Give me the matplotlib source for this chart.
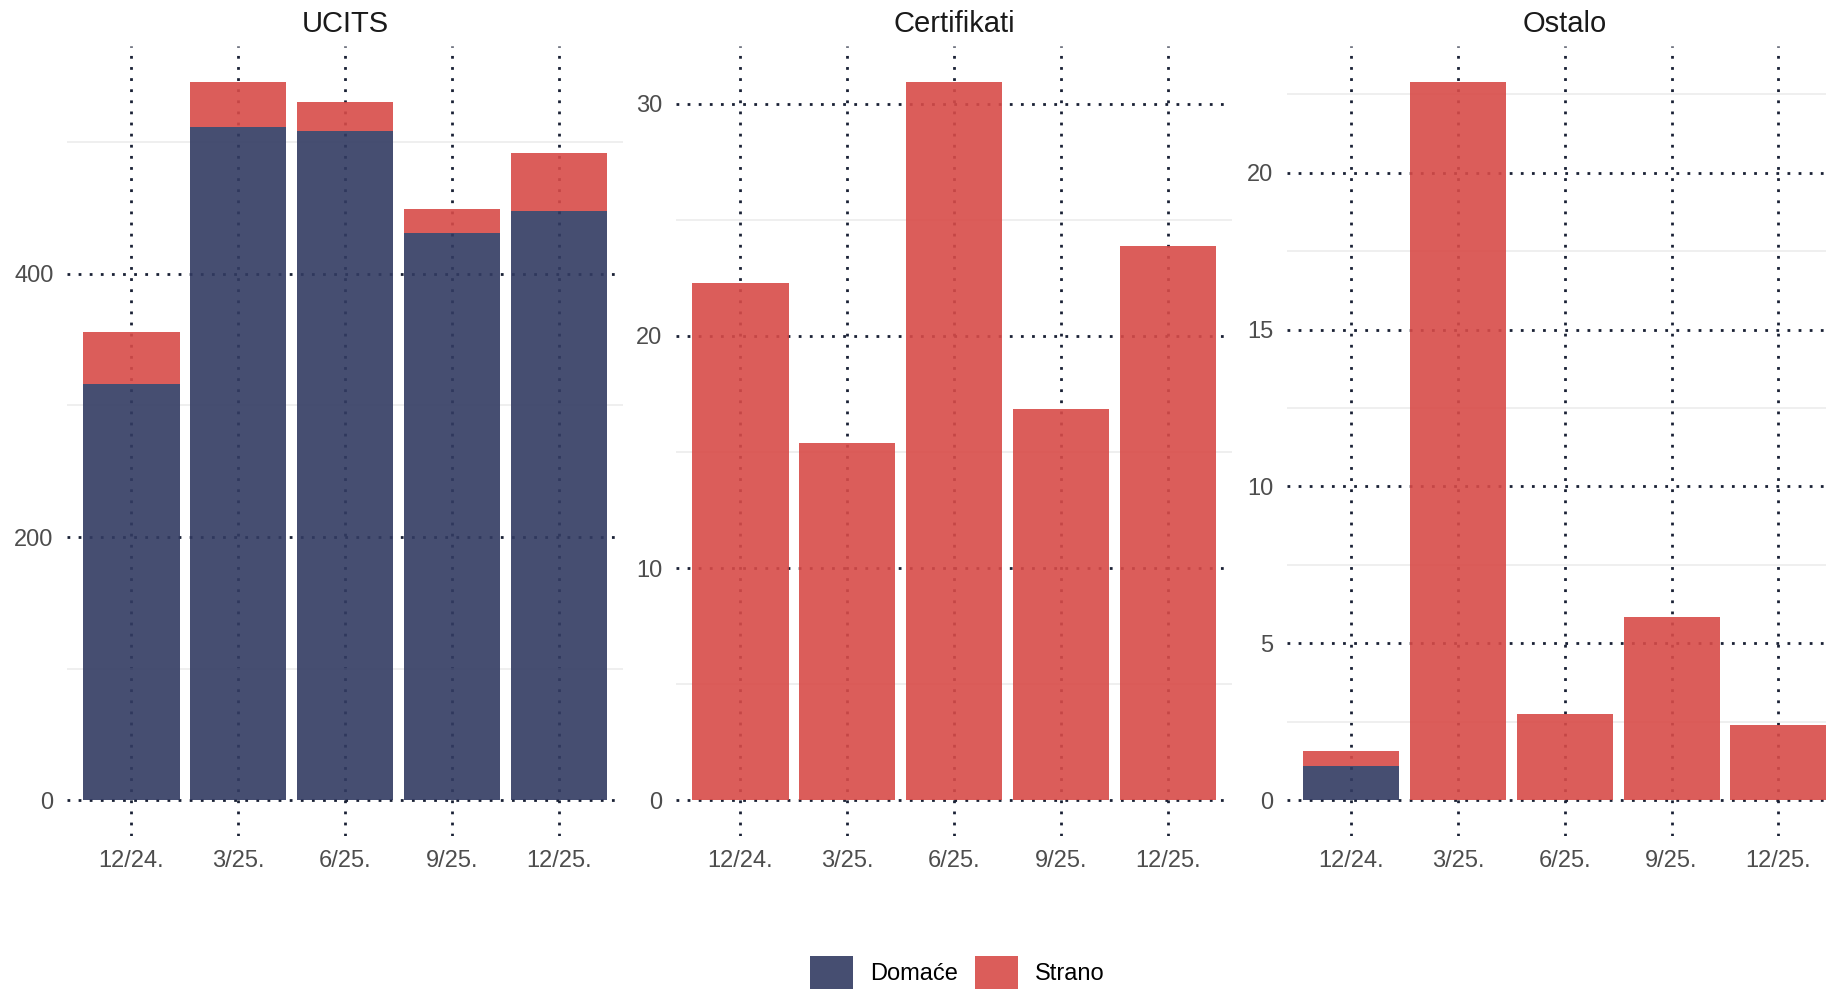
import matplotlib
matplotlib.use("Agg")
import matplotlib.pyplot as plt
from matplotlib.patches import Patch
from matplotlib.ticker import FixedLocator

plt.rcParams['font.family'] = ['Liberation Sans', 'DejaVu Sans']

# data
quarters = ['12/24.', '3/25.', '6/25.', '9/25.', '12/25.']
panels = ['UCITS', 'Certifikati', 'Ostalo']

ucits_dom = [316, 512, 509, 431, 448]
ucits_str = [40, 34, 22, 18, 44]
cert_dom = [0, 0, 0, 0, 0]
cert_str = [22.3, 15.4, 30.95, 16.85, 23.9]
ostalo_dom = [1.1, 0, 0, 0, 0]
ostalo_str = [0.45, 22.9, 2.75, 5.85, 2.4]

major_ticks = {'UCITS': [0, 200, 400],
               'Certifikati': [0, 10, 20, 30],
               'Ostalo': [0, 5, 10, 15, 20]}
minor_ticks = {'UCITS': [100, 300, 500],
               'Certifikati': [5, 15, 25],
               'Ostalo': [2.5, 7.5, 12.5, 17.5, 22.5]}

series = {'UCITS': (ucits_dom, ucits_str),
          'Certifikati': (cert_dom, cert_str),
          'Ostalo': (ostalo_dom, ostalo_str)}

c_dom = '#323B62'
c_str = '#D84B48'
grid_col = '#1a2135'

W, H = 1826, 989
fig = plt.figure(figsize=(W / 100, H / 100), dpi=100)

lefts = [67.4, 676.4, 1287]
pw = 555.5
top_px, bot_px = 46, 836

for name, left in zip(panels, lefts):
    ax = fig.add_axes([left / W, (H - bot_px) / H, pw / W, (bot_px - top_px) / H])
    dom, stra = series[name]
    x = list(range(len(quarters)))
    ax.bar(x, dom, width=0.9, color=c_dom, alpha=0.9, zorder=3)
    ax.bar(x, stra, bottom=dom, width=0.9, color=c_str, alpha=0.9, zorder=3)

    top = max(d + s for d, s in zip(dom, stra))
    ax.set_ylim(-0.05 * top, 1.05 * top)
    ax.set_xlim(-0.6, len(quarters) - 0.4)

    ax.set_xticks(x)
    ax.set_xticklabels(quarters)
    ax.yaxis.set_major_locator(FixedLocator(major_ticks[name]))
    ax.yaxis.set_minor_locator(FixedLocator(minor_ticks[name]))

    ax.grid(which='minor', axis='y', color='#ebebeb', linewidth=1.1, linestyle='-', zorder=0)
    ax.grid(which='major', axis='both', color=grid_col, linewidth=2.0,
            linestyle=(0, (1, 3)), dash_capstyle='butt', zorder=1)
    ax.set_axisbelow(True)

    for s in ax.spines.values():
        s.set_visible(False)
    ax.tick_params(which='both', length=0)
    ax.tick_params(axis='y', labelsize=17, labelcolor='#4d4d4d', pad=10)
    ax.tick_params(axis='x', labelsize=17, labelcolor='#4d4d4d', pad=10)

    ax.set_title(name, fontsize=21, color='#1a1a1a', pad=10)

handles = [Patch(facecolor=c_dom, alpha=0.9, label='Domaće'),
           Patch(facecolor=c_str, alpha=0.9, label='Strano')]
fig.legend(handles=handles, loc='center', bbox_to_anchor=(957 / W, 16.5 / H),
           ncol=2, frameon=False, fontsize=17, handlelength=1.82, handleheight=1.82,
           handletextpad=0.72, columnspacing=0.72, borderpad=0, borderaxespad=0)

fig.savefig('out.png', dpi=100)
